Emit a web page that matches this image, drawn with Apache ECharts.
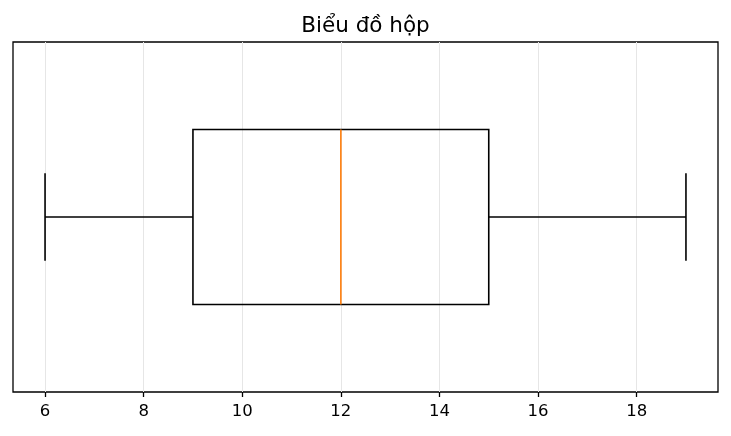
<!DOCTYPE html>
<html>
<head>
<meta charset="utf-8">
<script src="https://cdn.jsdelivr.net/npm/echarts@6/dist/echarts.min.js"></script>
<style>html,body{margin:0;padding:0;background:#fff;}#c{width:731px;height:436px;}</style>
</head>
<body>
<div id="c"></div>
<script>
const titleText = 'Biểu đồ hộp';
const positions = [1];
const lowValues = [6];
const q1Values = [9];
const medianValues = [12];
const q3Values = [15];
const highValues = [19];
const xTicks = [6, 8, 10, 12, 14, 16, 18];

const boxData = positions.map((p, i) => [p, lowValues[i], q1Values[i], medianValues[i], q3Values[i], highValues[i]]);

const chart = echarts.init(document.getElementById('c'));
const FONT = 'DejaVu Sans';
chart.setOption({
  animation: false,
  backgroundColor: '#fff',
  title: {
    text: titleText, left: 'center', top: 10,
    textStyle: { fontFamily: FONT, fontSize: 21.5, fontWeight: 'normal', color: '#000' }
  },
  grid: { left: 13, right: 13, top: 42, bottom: 44, show: true, borderColor: '#000', borderWidth: 1.3, outerBoundsMode: 'none', containLabel: false },
  xAxis: {
    type: 'value', min: 5.35, max: 19.65,
    axisLine: { show: false },
    axisTick: { show: true, customValues: xTicks, length: 5, lineStyle: { color: '#000', width: 1.3 } },
    axisLabel: { customValues: xTicks, fontFamily: FONT, fontSize: 16.5, color: '#000', margin: 11 },
    splitLine: { show: true, customValues: xTicks, lineStyle: { color: '#e6e6e6', width: 1 } }
  },
  yAxis: {
    type: 'value', min: 0.5, max: 1.5,
    axisLine: { show: false }, axisTick: { show: false }, axisLabel: { show: false }, splitLine: { show: false }
  },
  series: [{
    type: 'custom',
    data: boxData,
    encode: { x: [1, 2, 3, 4, 5], y: 0 },
    renderItem: function (params, api) {
      const p = api.value(0);
      const lo = api.value(1), q1 = api.value(2), med = api.value(3), q3 = api.value(4), hi = api.value(5);
      const c = (x, y) => api.coord([x, y]);
      const black = { stroke: '#000', lineWidth: 1.6, fill: null };
      const line = (a, b, style) => ({ type: 'line', shape: { x1: a[0], y1: a[1], x2: b[0], y2: b[1] }, style: style });
      const bTop = c(q1, p + 0.25), bBot = c(q3, p - 0.25);
      return {
        type: 'group',
        children: [
          line(c(lo, p), c(q1, p), black),
          line(c(q3, p), c(hi, p), black),
          line(c(lo, p - 0.125), c(lo, p + 0.125), black),
          line(c(hi, p - 0.125), c(hi, p + 0.125), black),
          { type: 'rect', shape: { x: bTop[0], y: bTop[1], width: bBot[0] - bTop[0], height: bBot[1] - bTop[1] }, style: black },
          line(c(med, p - 0.25), c(med, p + 0.25), { stroke: '#ff7f0e', lineWidth: 1.6 })
        ]
      };
    }
  }]
});
</script>
</body>
</html>
